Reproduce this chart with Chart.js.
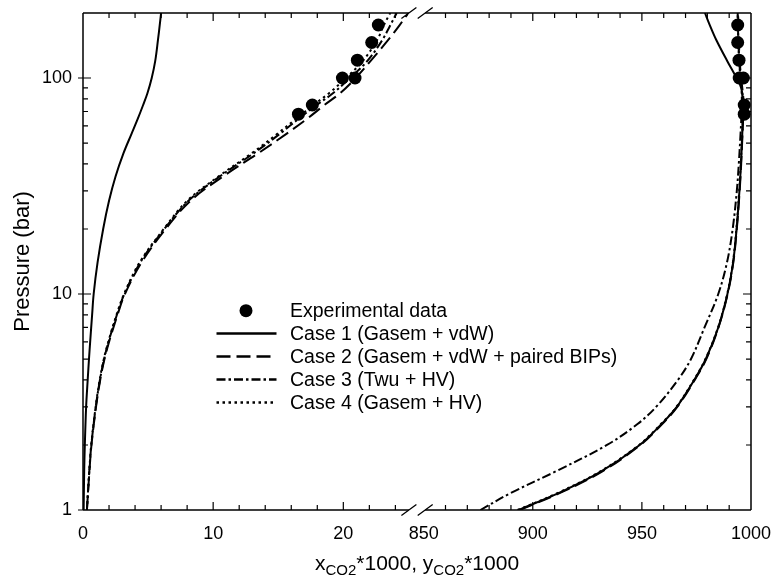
<!DOCTYPE html>
<html>
<head>
<meta charset="utf-8">
<script src="https://cdn.jsdelivr.net/npm/chart.js@4.4.1/dist/chart.umd.min.js"></script>
<style>
  html, body { margin: 0; padding: 0; background: #fff; }
  #wrap { width: 774px; height: 582px; }
</style>
</head>
<body>
<div id="wrap"><canvas id="chart"></canvas></div>
<script>
// pressure grids (bar)
const liqP = [1, 1.5, 2, 3, 4, 5, 6, 8, 10, 14, 20, 27, 35, 45, 55, 65, 75, 85, 100, 120, 150, 175, 200];
const vapP = [1, 1.2, 1.5, 2, 2.5, 3, 4, 5, 7, 10, 14, 20, 30, 40, 55, 70, 80, 90, 100, 120, 150, 175, 200];

// liquid side, x_CO2*1000
const case1Liq = [0.05, 0.09, 0.14, 0.24, 0.36, 0.46, 0.55, 0.7, 0.82, 1.12, 1.55, 2.0, 2.5, 3.12, 3.72, 4.22, 4.62, 4.95, 5.28, 5.55, 5.76, 5.89, 6.0];
const case2Liq = [0.3, 0.49, 0.65, 1.0, 1.32, 1.65, 2.0, 2.65, 3.22, 4.5, 6.35, 8.25, 10.75, 13.5, 15.6, 17.25, 18.55, 19.75, 20.95, 22.1, 23.45, 24.3, 25.0];
const case3Liq = [0.3, 0.48, 0.64, 0.98, 1.3, 1.62, 1.96, 2.6, 3.18, 4.4, 6.25, 8.1, 10.5, 13.15, 15.1, 16.6, 17.95, 19.2, 20.5, 21.85, 23.0, 23.6, 24.1];
const case4Liq = [0.3, 0.48, 0.63, 0.97, 1.28, 1.6, 1.94, 2.57, 3.15, 4.35, 6.2, 8.0, 10.4, 13.0, 14.9, 16.4, 17.7, 18.9, 20.2, 21.5, 22.6, 23.1, 23.6];

// vapour side, y_CO2*1000
const case1Vap = [893.5, 912, 931, 949, 959, 966, 974, 979.3, 985, 989.2, 991.8, 993.4, 994.7, 995.4, 996.0, 996.3, 996.2, 995.5, 993.4, 989.1, 984.1, 981.2, 978.9];
const case2Vap = [894, 912.5, 931.5, 949.3, 959.3, 966.2, 974.2, 979.5, 985.1, 989.3, 991.9, 993.5, 994.8, 995.5, 996.1, 996.5, 996.5, 996.0, 995.5, 994.8, 994.4, 994.2, 994.1];
const case3Vap = [876, 890, 910, 934, 948, 956.5, 966.5, 972.5, 978.7, 985.0, 989.0, 991.6, 993.5, 994.4, 995.2, 995.7, 995.8, 995.6, 995.2, 994.6, 994.2, 994.0, 993.9];
const case4Vap = [893, 911.5, 930.5, 948.7, 958.7, 965.8, 973.8, 979.1, 984.9, 989.1, 991.7, 993.3, 994.6, 995.3, 996.0, 996.4, 996.3, 995.8, 995.2, 994.6, 994.2, 994.0, 993.9];

// experimental data
const expP = [68, 75, 100, 100, 121, 146, 176];
const expLiq = [16.55, 17.62, 19.93, 20.9, 21.08, 22.18, 22.69];
const expVap = [996.9, 996.9, 994.6, 996.5, 994.5, 993.9, 993.9];

const xLeftTicks = [0, 10, 20];
const xRightTicks = [850, 900, 950, 1000];
const yTicks = [1, 10, 100];
const caseLabels = [
  "Case 1 (Gasem + vdW)",
  "Case 2 (Gasem + vdW + paired BIPs)",
  "Case 3 (Twu + HV)",
  "Case 4 (Gasem + HV)"
];
const expLabel = "Experimental data";

const FONT = '"Liberation Sans", Arial, Helvetica, sans-serif';
const dashes = [[], [14, 6], [9, 3, 2.5, 3], [2.5, 3.5]];

function pts(xs, ps) {
  return xs.map((x, i) => ({ x: x, y: ps[i] }));
}

function curve(label, xs, ps, axis, k) {
  return {
    label: label,
    data: pts(xs, ps),
    xAxisID: axis,
    borderColor: "#000",
    borderWidth: 2,
    borderDash: dashes[k],
    pointRadius: 0,
    tension: 0.35,
    fill: false
  };
}

function expSet(xs, axis) {
  return {
    label: expLabel,
    data: pts(xs, expP),
    xAxisID: axis,
    showLine: false,
    pointRadius: 6.5,
    pointBackgroundColor: "#000",
    pointBorderWidth: 0,
    borderColor: "#000"
  };
}

const liqSets = [case1Liq, case2Liq, case3Liq, case4Liq];
const vapSets = [case1Vap, case2Vap, case3Vap, case4Vap];

const datasets = [expSet(expLiq, "xL"), expSet(expVap, "xR")];
caseLabels.forEach((lab, k) => {
  datasets.push(curve(lab, liqSets[k], liqP, "xL", k));
  datasets.push(curve(lab, vapSets[k], vapP, "xR", k));
});

// frame, inward ticks and axis break
const framePlugin = {
  id: "frame",
  afterDraw(chart) {
    const { ctx, chartArea: a, scales } = chart;
    const xL = scales.xL, xR = scales.xR, y = scales.y;
    const bA = xL.right + 0.5;
    const bB = xR.getPixelForValue(850) + 1.5;
    ctx.save();
    ctx.strokeStyle = "#000";
    ctx.lineWidth = 1.5;
    ctx.beginPath();
    // top & bottom with gap
    [a.top, a.bottom].forEach(yy => {
      ctx.moveTo(a.left, yy); ctx.lineTo(bA, yy);
      ctx.moveTo(bB, yy); ctx.lineTo(a.right, yy);
    });
    ctx.moveTo(a.left, a.top); ctx.lineTo(a.left, a.bottom);
    ctx.moveTo(a.right, a.top); ctx.lineTo(a.right, a.bottom);
    ctx.stroke();

    ctx.lineWidth = 1.2;
    ctx.beginPath();
    function vt(px, len) {
      ctx.moveTo(px, a.bottom); ctx.lineTo(px, a.bottom - len);
      ctx.moveTo(px, a.top); ctx.lineTo(px, a.top + len);
    }
    for (let v = 2; v <= 24; v += 2) vt(xL.getPixelForValue(v), v % 10 === 0 ? 8 : 5);
    for (let v = 860; v < 1000; v += 10) vt(xR.getPixelForValue(v), v % 50 === 0 ? 8 : 5);
    for (let d = 1; d <= 100; d *= 10) {
      for (let m = 1; m <= 9; m++) {
        const v = d * m;
        if (v === 1 || v > 100) continue;
        const py = y.getPixelForValue(v);
        const len = m === 1 ? 8 : 5;
        ctx.moveTo(a.left - (m === 1 ? 5 : 0), py); ctx.lineTo(a.left + len, py);
        ctx.moveTo(a.right, py); ctx.lineTo(a.right - len, py);
      }
    }
    ctx.moveTo(a.left - 5, a.bottom); ctx.lineTo(a.left, a.bottom);
    ctx.stroke();

    // break slashes
    ctx.lineWidth = 1.3;
    ctx.beginPath();
    [a.top, a.bottom].forEach(yy => {
      [bA, bB].forEach(xx => {
        ctx.moveTo(xx - 7.5, yy + 5.5); ctx.lineTo(xx + 7.5, yy - 5.5);
      });
    });
    ctx.stroke();
    ctx.restore();
  }
};

// x-axis title with subscripts + legend
const textPlugin = {
  id: "texts",
  afterDraw(chart) {
    const { ctx, chartArea: a } = chart;
    ctx.save();
    ctx.fillStyle = "#000";
    ctx.textBaseline = "alphabetic";
    ctx.textAlign = "left";
    const big = "21px " + FONT, small = "15px " + FONT;
    const parts = [["x", big, 0], ["CO2", small, 5], ["*1000, y", big, 0], ["CO2", small, 5], ["*1000", big, 0]];
    let w = 0;
    parts.forEach(p => { ctx.font = p[1]; w += ctx.measureText(p[0]).width; });
    let x = (a.left + a.right) / 2 - w / 2;
    const base = 570;
    parts.forEach(p => {
      ctx.font = p[1];
      ctx.fillText(p[0], x, base + p[2]);
      x += ctx.measureText(p[0]).width;
    });

    // legend
    const rowY = [310.7, 333.5, 356.5, 379.5, 402.5];
    const x0 = 216.5, x1 = 276.5, tx = 290;
    ctx.font = "19.5px " + FONT;
    ctx.textBaseline = "middle";
    ctx.beginPath();
    ctx.arc((x0 + x1) / 2 - 0.5, rowY[0], 6.5, 0, Math.PI * 2);
    ctx.fill();
    ctx.fillText(expLabel, tx, rowY[0] + 1);
    caseLabels.forEach((lab, k) => {
      const yy = rowY[k + 1];
      ctx.save();
      ctx.lineWidth = 2.4;
      ctx.strokeStyle = "#000";
      ctx.setLineDash(dashes[k]);
      ctx.beginPath();
      ctx.moveTo(x0, yy); ctx.lineTo(x1, yy);
      ctx.stroke();
      ctx.restore();
      ctx.fillText(lab, tx, yy + 1);
    });
    ctx.restore();
  }
};

const tickFont = { family: FONT, size: 18 };

function fitX(s) {
  s.height = 72;
  s.paddingLeft = 0;
  s.paddingRight = 0;
}

new Chart(document.getElementById("chart"), {
  type: "line",
  data: { datasets: datasets },
  options: {
    responsive: true,
    maintainAspectRatio: false,
    animation: false,
    devicePixelRatio: 1,
    layout: { padding: { left: 0, top: 13, right: 23, bottom: 0 } },
    plugins: { legend: { display: false }, tooltip: { enabled: false } },
    scales: {
      xL: {
        type: "linear",
        position: "bottom",
        stack: "xs",
        stackWeight: 325.4,
        min: 0,
        max: 25,
        afterBuildTicks: s => { s.ticks = xLeftTicks.map(v => ({ value: v })); },
        afterFit: fitX,
        grid: { display: false, drawTicks: false },
        border: { display: false },
        ticks: { padding: 13, color: "#000", font: tickFont, maxRotation: 0, autoSkip: false, callback: v => String(v) }
      },
      xR: {
        type: "linear",
        position: "bottom",
        stack: "xs",
        stackWeight: 342.6,
        min: 843,
        max: 1000,
        afterBuildTicks: s => { s.ticks = xRightTicks.map(v => ({ value: v })); },
        afterFit: fitX,
        grid: { display: false, drawTicks: false },
        border: { display: false },
        ticks: { padding: 13, color: "#000", font: tickFont, maxRotation: 0, autoSkip: false, callback: v => String(v) }
      },
      y: {
        type: "logarithmic",
        position: "left",
        min: 1,
        max: 200,
        afterBuildTicks: s => { s.ticks = yTicks.map(v => ({ value: v })); },
        afterFit: s => { s.width = 83; s.paddingTop = 0; s.paddingBottom = 0; },
        grid: { display: false, drawTicks: false },
        border: { display: false },
        ticks: { padding: 11, color: "#000", font: tickFont, autoSkip: false, callback: v => String(v) },
        title: {
          display: true,
          text: "Pressure (bar)",
          color: "#000",
          font: { family: FONT, size: 22 },
          padding: { top: 10, bottom: 0 }
        }
      }
    }
  },
  plugins: [framePlugin, textPlugin]
});
</script>
</body>
</html>
